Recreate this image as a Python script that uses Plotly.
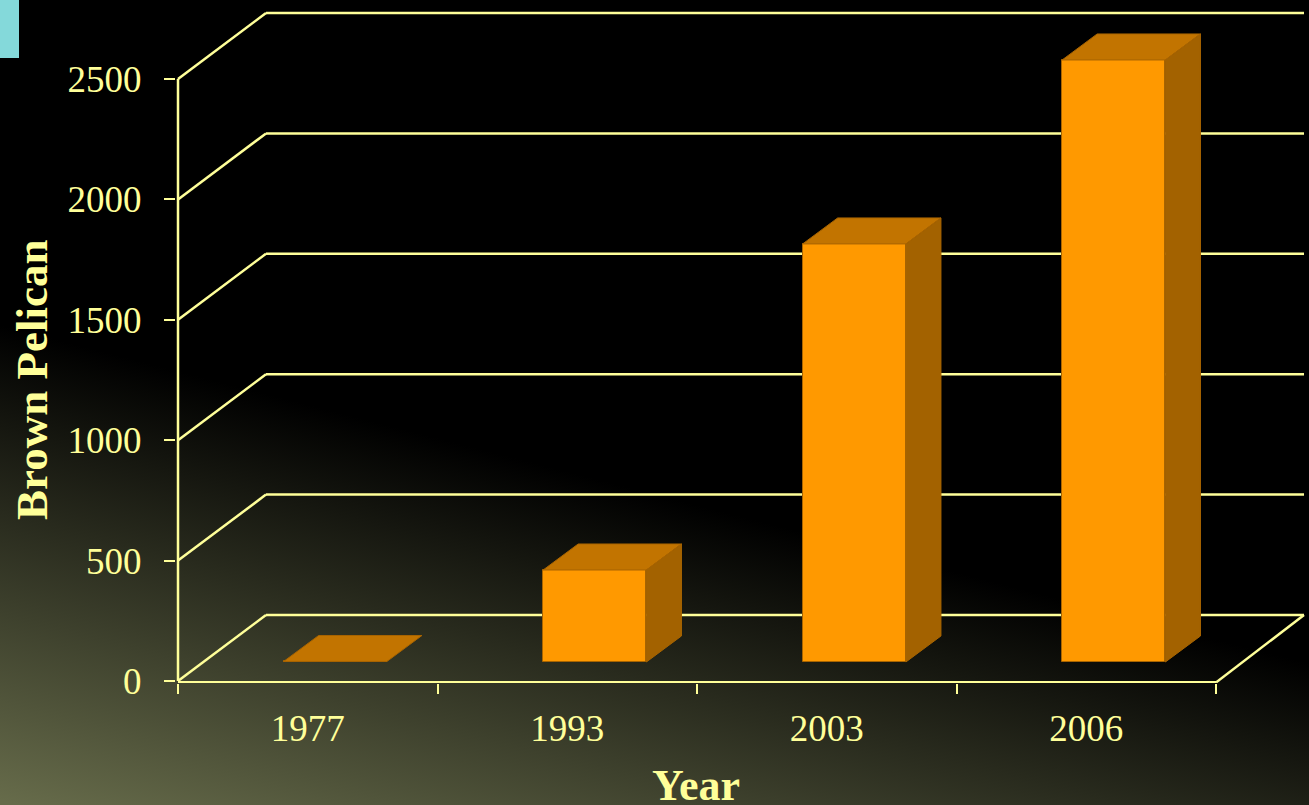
import base64
import plotly.graph_objects as go

# Data
years = ["1977", "1993", "2003", "2006"]
pelicans = [2, 382, 1736, 2500]
y_ticks = [0, 500, 1000, 1500, 2000, 2500]

W, H = 1309, 805
ML, MR, MT, MB = 176, 3, 11, 122
TEXT = "#ffff99"
FONT = "Liberation Serif"
FRONT, TOP, SIDE, EDGE = "#ff9900", "#c27400", "#a36200", "#a86400"

# Oblique depth of the fake-3D walls and of the bars, in axis units
WALL_DX, WALL_DY = 0.339, 274
BAR_OFF_DX, BAR_OFF_DY = 0.106, 79
BAR_DX, BAR_DY = 0.135, 108
BAR_W = 0.398
XMIN, XMAX = -0.5, 3.5
PAD_X, PAD_Y = 2 / 259.5, 2 / 0.2408

svg = f'''<svg xmlns="http://www.w3.org/2000/svg" width="{W}" height="{H}" viewBox="0 0 {W} {H}">
<defs><linearGradient id="g" gradientUnits="userSpaceOnUse" x1="0" y1="325" x2="-115" y2="770">
<stop offset="0" stop-color="#000000"/><stop offset="1" stop-color="#666b4a"/></linearGradient></defs>
<rect width="{W}" height="{H}" fill="url(#g)"/>
<rect width="19" height="58" fill="#84d9da"/></svg>'''
bg = "data:image/svg+xml;base64," + base64.b64encode(svg.encode()).decode()

pw, ph = W - ML - MR, H - MT - MB
shapes = []


def seg(x0, y0, x1, y1, width=2.5):
    shapes.append(dict(type="line", xref="x", yref="y", x0=x0, y0=y0, x1=x1, y1=y1,
                       layer="below", line=dict(color=TEXT, width=width)))


for v in y_ticks:
    seg(XMIN, v, XMIN + WALL_DX, v + WALL_DY)
    seg(XMIN + WALL_DX, v + WALL_DY, XMAX + WALL_DX, v + WALL_DY)
seg(XMIN, 0, XMIN, y_ticks[-1])
seg(XMIN, -6, XMAX, -6, 3)
seg(XMAX, -6, XMAX + WALL_DX, WALL_DY)

fig = go.Figure()
xs = [i + BAR_OFF_DX for i in range(len(years))]
fig.add_trace(go.Bar(x=xs, y=pelicans, base=BAR_OFF_DY, width=BAR_W,
                     marker=dict(color=FRONT, line=dict(color=EDGE, width=1)),
                     showlegend=False, hoverinfo="skip"))
for x, v in zip(xs, pelicans):
    l, r, t, b = x - BAR_W / 2, x + BAR_W / 2, v + BAR_OFF_DY, BAR_OFF_DY
    fig.add_trace(go.Scatter(
        x=[l, r, r + BAR_DX, l + BAR_DX, l], y=[t, t, t + BAR_DY, t + BAR_DY, t],
        mode="lines", fill="toself", fillcolor=TOP, line=dict(color=EDGE, width=1),
        showlegend=False, hoverinfo="skip"))
    if v > 10:
        fig.add_trace(go.Scatter(
            x=[r, r + BAR_DX, r + BAR_DX, r, r],
            y=[b, b + BAR_DY, t + BAR_DY, t, b],
            mode="lines", fill="toself", fillcolor=SIDE, line=dict(color=EDGE, width=1),
            showlegend=False, hoverinfo="skip"))

fig.update_layout(
    width=W, height=H, autosize=False,
    margin=dict(l=ML, r=MR, t=MT, b=MB),
    paper_bgcolor="#000000", plot_bgcolor="rgba(0,0,0,0)",
    font=dict(family=FONT, color=TEXT, size=37),
    shapes=shapes, bargap=0, hovermode=False,
    images=[dict(source=bg, xref="paper", yref="paper", x=-ML / pw, y=1 + MT / ph,
                 sizex=W / pw, sizey=H / ph, sizing="stretch", xanchor="left", yanchor="top",
                 layer="below")],
    xaxis=dict(range=[XMIN - PAD_X, XMAX + WALL_DX + PAD_X], showgrid=False, zeroline=False, showline=False,
               tickmode="array", tickvals=list(range(len(years))), ticktext=years,
               ticks="", ticklabelstandoff=20, tickfont=dict(size=37, color=TEXT),
               minor=dict(tickmode="array", tickvals=[XMIN + i for i in range(len(years) + 1)],
                          ticks="outside", ticklen=10, tickwidth=2, tickcolor=TEXT, showgrid=False)),
    yaxis=dict(range=[-PAD_Y, y_ticks[-1] + WALL_DY + PAD_Y], showgrid=False, zeroline=False, showline=False,
               tickmode="array", tickvals=y_ticks, ticks="outside", ticklen=11, tickwidth=2,
               tickcolor=TEXT, ticklabelstandoff=15, tickfont=dict(size=37, color=TEXT)),
    annotations=[
        dict(text="<b>Year</b>", xref="paper", yref="paper", showarrow=False,
             x=(696 - ML) / pw, y=-(785 - (H - MB)) / ph, xanchor="center", yanchor="middle",
             height=38, borderpad=0, font=dict(size=44, color=TEXT, family=FONT)),
        dict(text="<b>Brown Pelican</b>", xref="paper", yref="paper", showarrow=False, textangle=-90,
             x=-(ML - 32) / pw, y=((H - MB) - 380) / ph, xanchor="center", yanchor="middle",
             font=dict(size=45, color=TEXT, family=FONT)),
    ],
)

fig.write_html("out.html", config=dict(displayModeBar=False),
               post_script="document.body.style.margin='0';document.body.style.overflow='hidden';")
